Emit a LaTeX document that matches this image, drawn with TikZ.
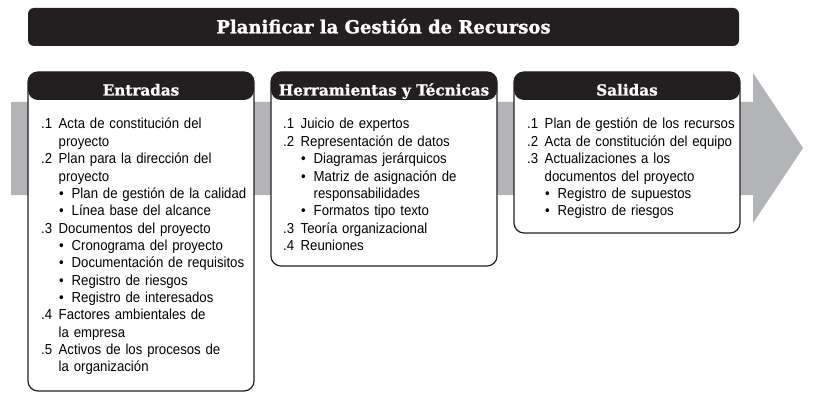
\documentclass[tikz,border=0pt]{standalone}
\usepackage{fontspec}
\setmainfont{Liberation Sans}[FakeStretch=0.91]
\newfontfamily\slabfont{DejaVu Serif}[BoldFeatures={FakeBold=1.2}]
\usetikzlibrary{positioning}
\definecolor{ink}{HTML}{231F20}
\definecolor{arrowgray}{HTML}{B2B4B7}
\newcommand{\itm}[2]{\makebox[17.5pt][l]{#1}#2}
\newcommand{\cnt}[1]{\hspace*{17.5pt}#1}
\newcommand{\bul}[1]{\hspace*{18pt}\makebox[12.5pt][l]{\textbullet}#1}

\begin{document}
\begin{tikzpicture}[x=1pt,y=-1pt,
	panel/.style={draw=ink,line width=1.2pt,fill=white,rounded corners=10pt,minimum width=226pt,inner sep=0pt,outer sep=0pt,anchor=north west,
		path picture={\fill[ink] (path picture bounding box.north west) rectangle ([yshift=-28pt]path picture bounding box.north east);}},
	hdrtext/.style={text=white,anchor=base,font=\slabfont\bfseries\fontsize{15.2}{17}\selectfont},
	items/.style={anchor=base west,align=left,text width=215pt,inner sep=0pt,font=\fontsize{14.5}{17.35}\selectfont}]
	\useasboundingbox (0,0) rectangle (819,417);
	\fill[arrowgray] (11,102) -- (753,102) -- (753,73) -- (803,148) -- (753,223) -- (753,195) -- (11,195) -- cycle;
	\draw (383.5,27) node(title) [fill=ink,rounded corners=6pt,minimum width=711pt,minimum height=38pt,inner sep=0pt,text height=12.7pt,text depth=0pt,text=white,font=\slabfont\bfseries\fontsize{18}{19}\selectfont] {Planificar la Gestión de Recursos};
	
	\draw (28,72) node(entradas) [panel,minimum height=319pt] {};
	\draw (271,72) node(herram) [panel,minimum height=194pt] {};
	\draw (514,72) node(salidas) [panel,minimum height=161pt] {};
	
	\node [hdrtext] (entH) at ([yshift=-23.5pt]entradas.north) {Entradas};
	\node [hdrtext] (herH) at ([yshift=-23.5pt]herram.north) {Herramientas y Técnicas};
	\node [hdrtext] (salH) at ([yshift=-23.5pt]salidas.north) {Salidas};
	
	\node [items] (entlist) at ([xshift=13pt,yshift=-57pt]entradas.north west) {%
		\itm{.1}{Acta de constitución del}\\
		\cnt{proyecto}\\
		\itm{.2}{Plan para la dirección del}\\
		\cnt{proyecto}\\
		\bul{Plan de gestión de la calidad}\\
		\bul{Línea base del alcance}\\
		\itm{.3}{Documentos del proyecto}\\
		\bul{Cronograma del proyecto}\\
		\bul{Documentación de requisitos}\\
		\bul{Registro de riesgos}\\
		\bul{Registro de interesados}\\
		\itm{.4}{Factores ambientales de}\\
		\cnt{la empresa}\\
		\itm{.5}{Activos de los procesos de}\\
		\cnt{la organización}};
	\node [items] (herlist) at ([xshift=12pt,yshift=-57pt]herram.north west) {%
		\itm{.1}{Juicio de expertos}\\
		\itm{.2}{Representación de datos}\\
		\bul{Diagramas jerárquicos}\\
		\bul{Matriz de asignación de}\\
		\hspace*{30.5pt}responsabilidades\\
		\bul{Formatos tipo texto}\\
		\itm{.3}{Teoría organizacional}\\
		\itm{.4}{Reuniones}};
	\node [items] (sallist) at ([xshift=13pt,yshift=-57pt]salidas.north west) {%
		\itm{.1}{Plan de gestión de los recursos}\\
		\itm{.2}{Acta de constitución del equipo}\\
		\itm{.3}{Actualizaciones a los}\\
		\cnt{documentos del proyecto}\\
		\bul{Registro de supuestos}\\
		\bul{Registro de riesgos}};
\end{tikzpicture}
\end{document}
